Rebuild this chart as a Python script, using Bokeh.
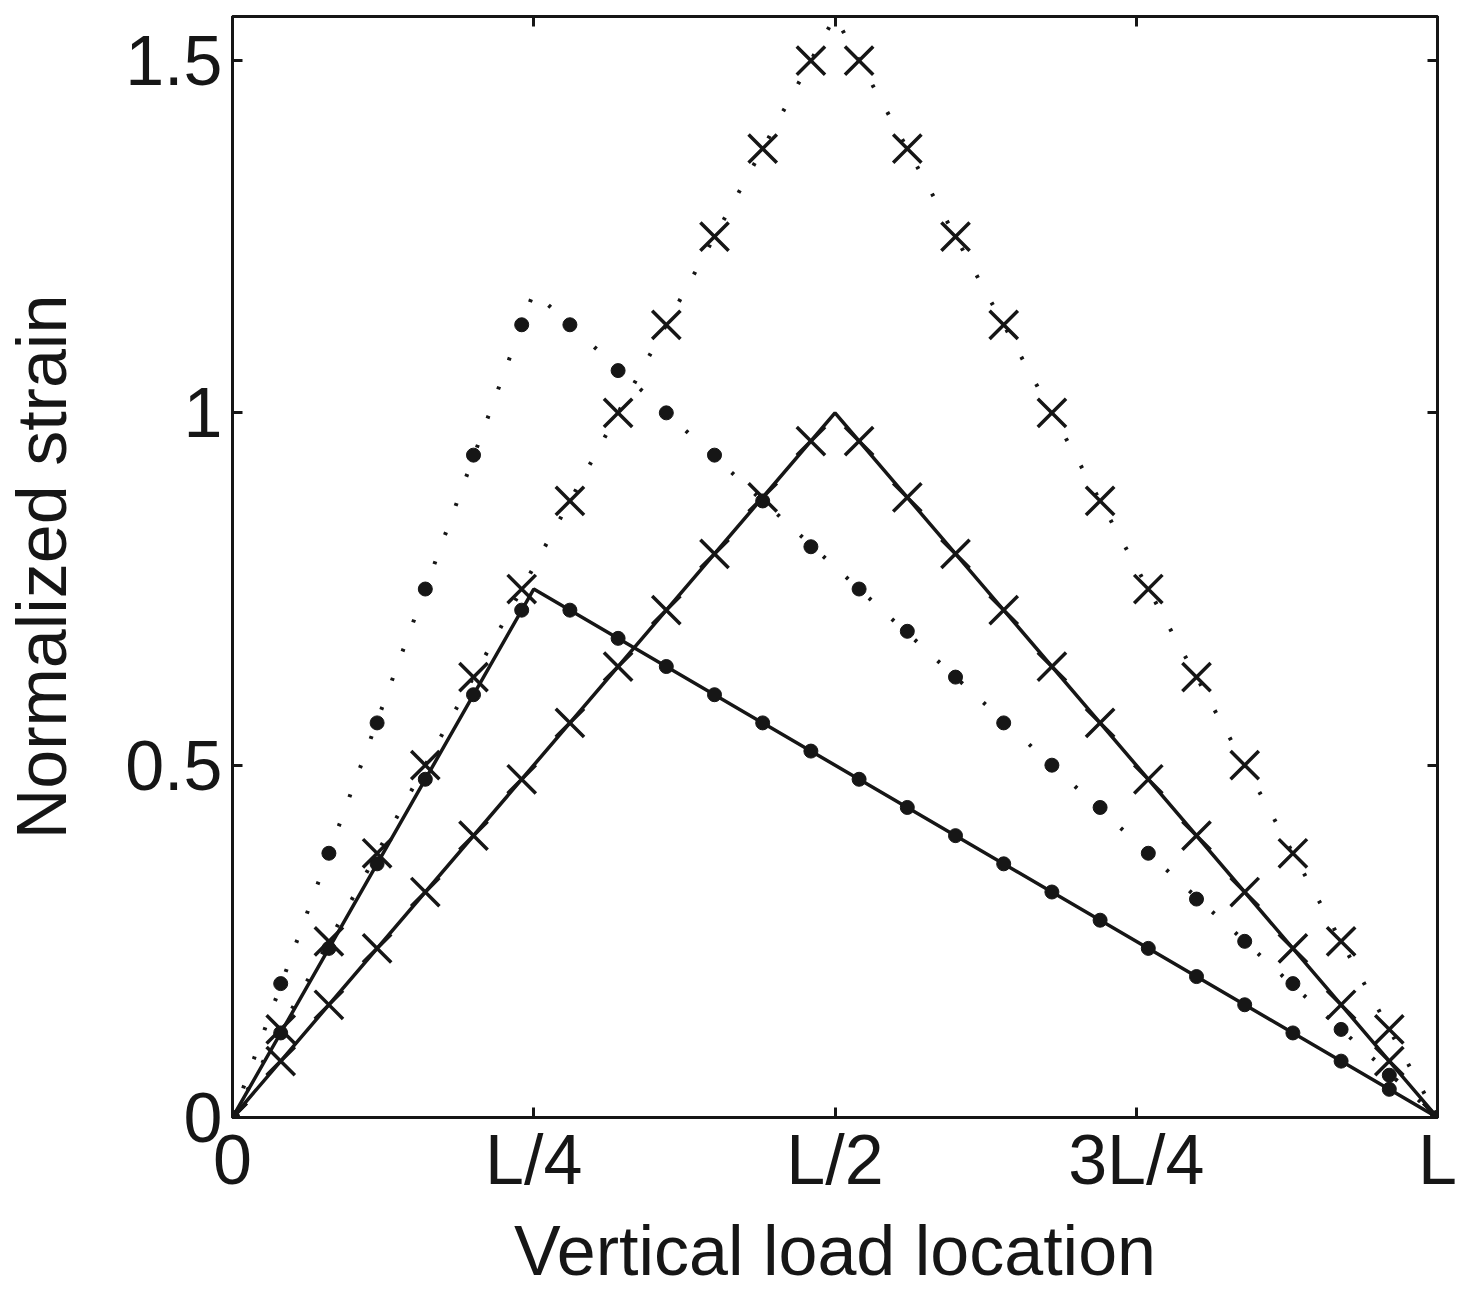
from bokeh.plotting import figure
from bokeh.models import Range1d, FixedTicker, LinearAxis
from bokeh.embed import file_html
from bokeh.resources import INLINE

# ---- data (x as fraction of L) ----
x_pts = [0.00, 0.04, 0.08, 0.12, 0.16, 0.20, 0.24, 0.28, 0.32, 0.36, 0.40, 0.44, 0.48,
         0.52, 0.56, 0.60, 0.64, 0.68, 0.72, 0.76, 0.80, 0.84, 0.88, 0.92, 0.96, 1.00]

dots_solid = [0, 0.12, 0.24, 0.36, 0.48, 0.60, 0.72, 0.72, 0.68, 0.64, 0.60, 0.56, 0.52,
              0.48, 0.44, 0.40, 0.36, 0.32, 0.28, 0.24, 0.20, 0.16, 0.12, 0.08, 0.04, 0]
dots_dotted = [0, 0.19, 0.375, 0.56, 0.75, 0.94, 1.125, 1.125, 1.06, 1.0, 0.94, 0.875, 0.81,
               0.75, 0.69, 0.625, 0.56, 0.5, 0.44, 0.375, 0.31, 0.25, 0.19, 0.125, 0.06, 0]
cross_solid = [0, 0.08, 0.16, 0.24, 0.32, 0.40, 0.48, 0.56, 0.64, 0.72, 0.80, 0.88, 0.96,
               0.96, 0.88, 0.80, 0.72, 0.64, 0.56, 0.48, 0.40, 0.32, 0.24, 0.16, 0.08, 0]
cross_dotted = [0, 0.125, 0.25, 0.375, 0.5, 0.625, 0.75, 0.875, 1.0, 1.125, 1.25, 1.375, 1.5,
                1.5, 1.375, 1.25, 1.125, 1.0, 0.875, 0.75, 0.625, 0.5, 0.375, 0.25, 0.125, 0]

line1_x = [0, 0.25, 1.0]
line1_y = [0, 0.75, 0]
line2_x = [0, 0.25, 1.0]
line2_y = [0, 1.171875, 0]
line3_x = [0, 0.5, 1.0]
line3_y = [0, 1.0, 0]
line4_x = [0, 0.5, 1.0]
line4_y = [0, 1.5625, 0]

x_ticks = [0, 0.25, 0.5, 0.75, 1.0]
x_tick_labels = ["0", "L/4", "L/2", "3L/4", "L"]
y_ticks = [0, 0.5, 1.0, 1.5]
y_tick_labels = ["0", "0.5", "1", "1.5"]
x_title = "Vertical load location"
y_title = "Normalized strain"

INK = "#161616"
FONT = "Liberation Sans"

p = figure(width=1461, height=1294, output_backend="svg", toolbar_location=None,
           x_range=Range1d(0, 1.0), y_range=Range1d(0, 1.5625),
           min_border_left=232, min_border_right=24, min_border_top=16, min_border_bottom=177,
           x_axis_label=x_title, y_axis_label=y_title)
p.grid.visible = False
p.background_fill_color = "white"
p.border_fill_color = "white"
p.outline_line_color = INK
p.outline_line_width = 3

for ax, ticks, labels in ((p.xaxis[0], x_ticks, x_tick_labels), (p.yaxis[0], y_ticks, y_tick_labels)):
    ax.ticker = FixedTicker(ticks=ticks)
    ax.major_label_overrides = {t: l for t, l in zip(ticks, labels)}
    ax.minor_tick_line_color = None
    ax.major_tick_in = 10
    ax.major_tick_out = 0
    ax.major_tick_line_width = 3
    ax.major_tick_line_color = INK
    ax.axis_line_width = 3
    ax.axis_line_color = INK
    ax.major_label_text_font = FONT
    ax.major_label_text_font_size = "70px"
    ax.major_label_text_color = INK
    ax.axis_label_text_font = FONT
    ax.axis_label_text_font_size = "70px"
    ax.axis_label_text_font_style = "normal"
    ax.axis_label_text_color = INK

p.xaxis[0].major_label_text_line_height = 0.8
p.xaxis[0].axis_label_text_line_height = 0.8
p.xaxis[0].major_label_standoff = 3
p.xaxis[0].axis_label_standoff = 10
p.yaxis[0].major_label_text_line_height = 1.0
p.yaxis[0].axis_label_text_line_height = 1.0
p.yaxis[0].major_label_standoff = 10
p.yaxis[0].axis_label_standoff = 41

for side, ticks in (("above", x_ticks), ("right", y_ticks)):
    ax = LinearAxis(ticker=FixedTicker(ticks=ticks))
    ax.major_label_overrides = {t: "" for t in ticks}
    ax.major_label_text_font_size = "1px"
    ax.major_label_standoff = 0
    ax.minor_tick_line_color = None
    ax.major_tick_in = 10
    ax.major_tick_out = 0
    ax.major_tick_line_width = 3
    ax.major_tick_line_color = INK
    ax.axis_line_width = 3
    ax.axis_line_color = INK
    p.add_layout(ax, side)

# lines
p.line(line1_x, line1_y, line_color=INK, line_width=3.5)
p.line(line3_x, line3_y, line_color=INK, line_width=3.5)
p.line(line2_x, line2_y, line_color=INK, line_width=4, line_dash="3 28")
p.line(line4_x, line4_y, line_color=INK, line_width=4, line_dash="3 28")

# markers
p.scatter(x_pts, dots_solid, marker="circle", size=14, fill_color=INK, line_color=INK)
p.scatter(x_pts, dots_dotted, marker="circle", size=14, fill_color=INK, line_color=INK)
p.scatter(x_pts, cross_solid, marker="x", size=40, line_color=INK, line_width=3.5)
p.scatter(x_pts, cross_dotted, marker="x", size=40, line_color=INK, line_width=3.5)

open("out.html", "w").write(file_html(p, INLINE))
